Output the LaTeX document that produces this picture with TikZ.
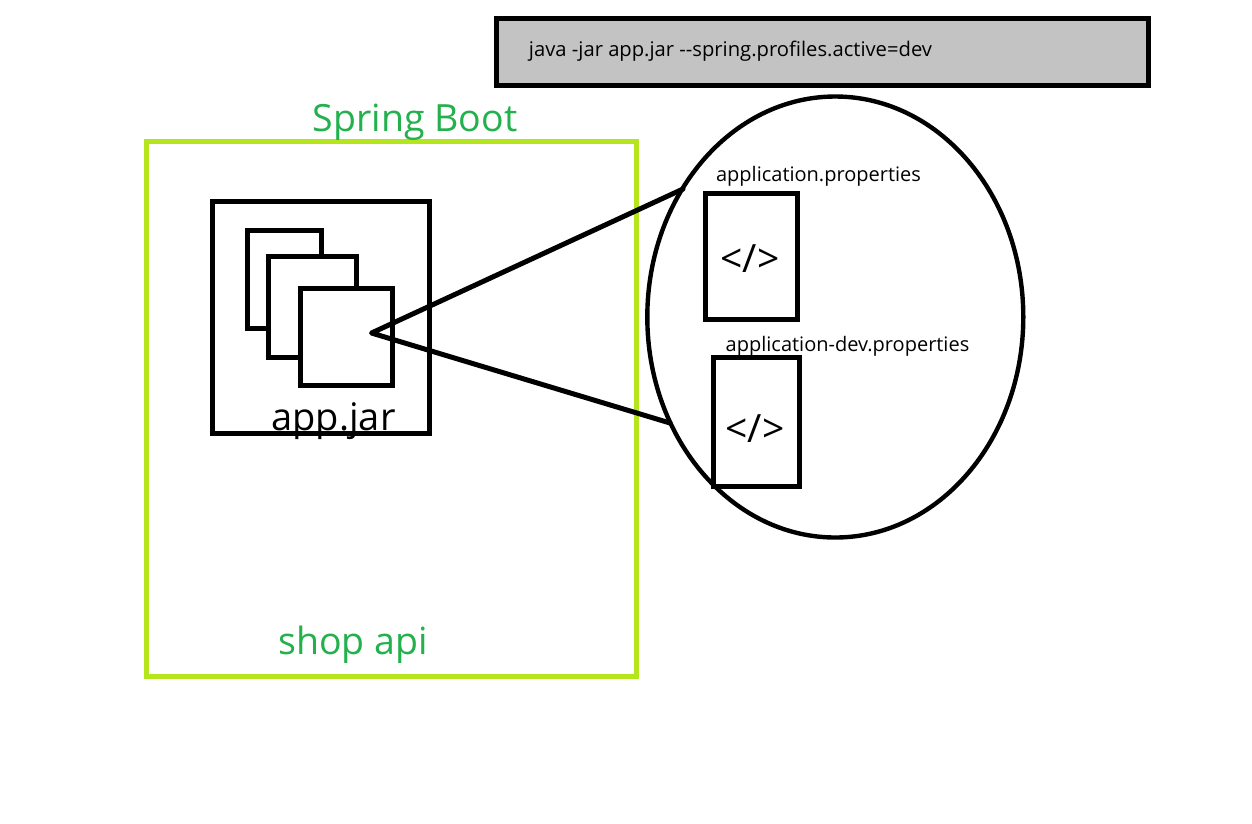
\documentclass[tikz,border=0pt]{standalone}
\usepackage{fontspec}
\setmainfont{Open Sans}
\usetikzlibrary{shapes.geometric}
\definecolor{lime}{HTML}{B5E61D}
\definecolor{grn}{HTML}{22B14C}
\definecolor{gry}{HTML}{C3C3C3}
\begin{document}
\begin{tikzpicture}[x=1pt,y=-1pt,
 box/.style={draw=black,line width=5pt,fill=white,rectangle,inner sep=0pt,anchor=north west},
 lbl/.style={inner sep=0pt,anchor=center,text=black},
 wedge/.style={draw=black,line width=5pt,line cap=round,line join=round}]
\useasboundingbox (0,0) rectangle (1252,823);
\fill[white] (0,0) rectangle (1252,823);
\node[box,fill=gry,minimum width=652pt,minimum height=67pt] (cmd) at (494,16) {};
\node[lbl,font=\fontsize{20.2}{24}\selectfont] (cmdt) at (730.5,51) {java -jar app.jar -{}-spring.profiles.active=dev};
\node[box,draw=lime,minimum width=490pt,minimum height=535pt] (boot) at (144,139) {};
\node[lbl,text=grn,font=\fontsize{37.5}{42}\selectfont] (boott) at (415,122) {Spring Boot};
\node[lbl,text=grn,font=\fontsize{37.5}{42}\selectfont] (shop) at (353,645) {shop api};
\node[box,minimum width=217pt,minimum height=232pt] (jar) at (210,199) {};
\node[box,minimum width=74pt,minimum height=98pt] (c1) at (245,228) {};
\node[box,minimum width=88pt,minimum height=101pt] (c2) at (266,254) {};
\node[box,minimum width=92pt,minimum height=97pt] (c3) at (298,286) {};
\node[lbl,font=\fontsize{38}{42}\selectfont] (jart) at (333.5,421) {app.jar};
\node[ellipse,draw=black,line width=4.4pt,minimum width=376pt,minimum height=441pt,inner sep=0pt,fill=white] (circ) at (835.3,317) {};
\coordinate (apex) at (371.5,333);
\coordinate (w1) at (683,189);
\coordinate (w2) at (670,423);
\draw[wedge] (w1) -- (apex) -- (w2);
\node[box,minimum width=92pt,minimum height=126pt] (p1) at (703,191) {};
\node[box,minimum width=86pt,minimum height=129pt] (p2) at (711,355) {};
\node[lbl,font=\fontsize{39}{42}\selectfont] (p1c) at (750,259) {</>};
\node[lbl,font=\fontsize{39}{42}\selectfont] (p2c) at (755,429) {</>};
\node[lbl,font=\fontsize{20}{24}\selectfont] (p1t) at (818.5,176) {application.properties};
\node[lbl,font=\fontsize{20}{24}\selectfont] (p2t) at (847.5,346) {application-dev.properties};
\end{tikzpicture}
\end{document}
